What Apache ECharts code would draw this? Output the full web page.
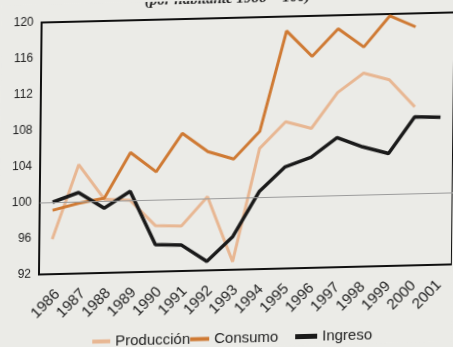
<!DOCTYPE html>
<html>
<head>
<meta charset="utf-8">
<script src="https://cdn.jsdelivr.net/npm/echarts@6/dist/echarts.min.js"></script>
<style>
  html, body { margin: 0; padding: 0; width: 453px; height: 347px; overflow: hidden; background: #ebebe7; }
  #chart { width: 453px; height: 347px; transform: skewY(-1.4deg) skewX(-0.6deg); transform-origin: 50% 50%; }
</style>
</head>
<body>
<div id="chart"></div>
<script>
const years = ['1986','1987','1988','1989','1990','1991','1992','1993','1994','1995','1996','1997','1998','1999','2000','2001'];
const produccion = [95.9, 104.1, 100.2, 100.0, 97.1, 97.0, 100.2, 92.9, 105.4, 108.3, 107.5, 111.4, 113.5, 112.7, 109.6, null];
const consumo = [99.1, 99.8, 100.3, 105.3, 103.1, 107.3, 105.2, 104.3, 107.3, 118.4, 115.5, 118.5, 116.4, 119.8, 118.5, null];
const ingreso = [100.0, 101.0, 99.2, 101.0, 95.0, 94.9, 93.0, 95.7, 100.6, 103.3, 104.3, 106.4, 105.3, 104.5, 108.5, 108.4];
const yTicks = { min: 92, max: 120, interval: 4 };
const baseLine = 100;
const titleText = '(por habitante 1986 = 100)';

const chart = echarts.init(document.getElementById('chart'), null, { renderer: 'canvas' });
const legendText = { fontSize: 15, color: '#222', fontFamily: 'Liberation Sans, Arial, sans-serif' };
const option = {
  backgroundColor: '#ebebe7',
  animation: false,
  graphic: [{
    type: 'text', left: 143, top: -8,
    style: { text: titleText, font: 'italic bold 15px "Liberation Serif", serif', fill: '#222' }
  }],
  grid: [
    { left: 40, right: -6, top: 18, bottom: 77, show: true, borderColor: '#111', borderWidth: 2, containLabel: false },
    { left: 46, right: -12, top: 18, bottom: 77, show: false, containLabel: false }
  ],
  legend: [
    { data: ['Producción'], left: 94, top: 331, icon: 'rect', itemWidth: 18, itemHeight: 4, textStyle: legendText, padding: 0 },
    { data: ['Consumo'], left: 192, top: 331, icon: 'rect', itemWidth: 19, itemHeight: 4, textStyle: legendText, padding: 0 },
    { data: ['Ingreso'], left: 297, top: 331, icon: 'rect', itemWidth: 22, itemHeight: 5, textStyle: legendText, padding: 0 }
  ],
  xAxis: [
    {
      type: 'category', data: years, boundaryGap: true, gridIndex: 0,
      axisLine: { lineStyle: { color: '#111', width: 2 } },
      axisTick: { show: false },
      axisLabel: { show: false }
    },
    {
      type: 'category', data: years, boundaryGap: true, gridIndex: 1,
      axisLine: { show: false },
      axisTick: { show: false },
      axisLabel: { rotate: 45, interval: 0, fontSize: 15, color: '#222', fontFamily: 'Liberation Sans, Arial, sans-serif', margin: 18 }
    }
  ],
  yAxis: [
    {
      type: 'value', min: yTicks.min, max: yTicks.max, interval: yTicks.interval, gridIndex: 0,
      axisLine: { show: true, lineStyle: { color: '#111', width: 2 } },
      axisTick: { show: false },
      splitLine: { show: false },
      axisLabel: { fontSize: 12, color: '#222', fontFamily: 'Liberation Sans, Arial, sans-serif', margin: 8 }
    },
    {
      type: 'value', min: yTicks.min, max: yTicks.max, interval: yTicks.interval, gridIndex: 1,
      show: false
    }
  ],
  series: [
    { name: 'Producción', type: 'line', data: produccion, symbol: 'none', color: '#e8b793',
      lineStyle: { width: 3, color: '#e8b793' },
      markLine: { silent: true, symbol: 'none', label: { show: false },
        lineStyle: { color: '#9c9c9c', width: 1, type: 'solid' }, data: [{ yAxis: baseLine }] } },
    { name: 'Consumo', type: 'line', data: consumo, symbol: 'none', color: '#cf7a34',
      lineStyle: { width: 3, color: '#cf7a34' } },
    { name: 'Ingreso', type: 'line', data: ingreso, symbol: 'none', color: '#1a1a1a',
      lineStyle: { width: 3.5, color: '#1a1a1a' } }
  ]
};
chart.setOption(option);
</script>
</body>
</html>
